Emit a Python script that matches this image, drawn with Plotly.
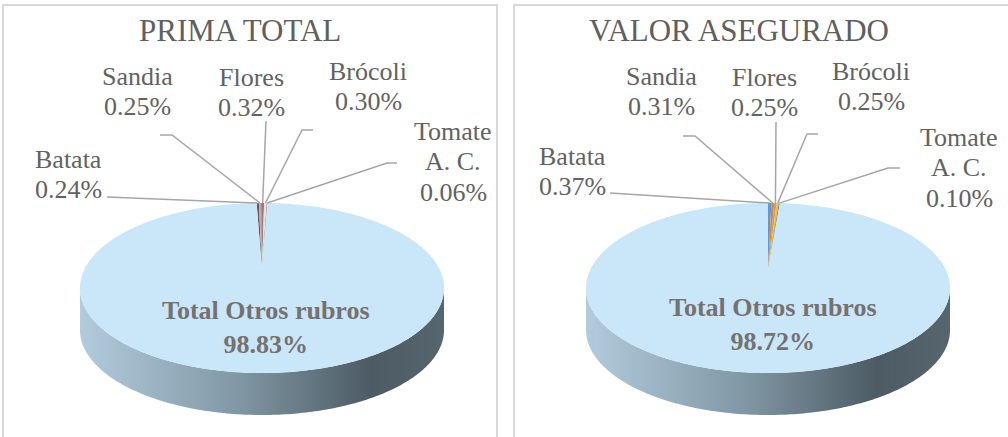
import numpy as np
import plotly.graph_objects as go

# ---------------- data ----------------
categories = ["Batata", "Sandia", "Flores", "Brócoli", "Tomate A. C.", "Total Otros rubros"]
prima_total = [0.24, 0.25, 0.32, 0.30, 0.06, 98.83]
valor_asegurado = [0.37, 0.31, 0.25, 0.25, 0.10, 98.72]
titles = ["PRIMA TOTAL", "VALOR ASEGURADO"]

colors_left = ["#525d66", "#f0959b", "#7c848b", "#dde6d9", "#b04a50", "#c9e7f8"]
colors_right = ["#5b9bd5", "#ed7d31", "#a5a5a5", "#ffc000", "#4472c4", "#c9e7f8"]

# ---------------- geometry (pixel space) ----------------
W, H = 1008, 437
K = 0.2117          # perspective factor
B = 81.2            # vertical semi-axis factor
C = 177.9           # horizontal semi-axis factor
CY = 270            # apex / centre y
DEPTH = 42          # pie thickness
panels = [
    dict(cx=262, title_x=240, rot=-2.1,
         label_lines={
             "Batata": dict(x=33, y=159, anchor="left", pts=[(107, 197)]),
             "Sandia": dict(x=137, y=76, anchor="center", pts=[(160, 135), (172, 135)]),
             "Flores": dict(x=251, y=77, anchor="center", pts=[(266, 121)]),
             "Brócoli": dict(x=368, y=71, anchor="center", pts=[(313, 130), (302, 130)]),
             "Tomate A. C.": dict(x=453, y=131, anchor="center", pts=[(397, 163), (387, 163)]),
         },
         total_x=266, total_y=327),
    dict(cx=768, title_x=739, rot=0.0,
         label_lines={
             "Batata": dict(x=537, y=156, anchor="left", pts=[(610, 193)]),
             "Sandia": dict(x=661, y=76, anchor="center", pts=[(683, 136), (695, 136)]),
             "Flores": dict(x=764, y=77, anchor="center", pts=[(776, 122)]),
             "Brócoli": dict(x=871, y=71, anchor="center", pts=[(818, 134), (807, 134)]),
             "Tomate A. C.": dict(x=959, y=137, anchor="center", pts=[(900, 168), (888, 168)]),
         },
         total_x=773, total_y=324),
]
LINE_STEP = 30.5
LABEL_COLOR = "#626262"
SERIF = "Liberation Serif, Times New Roman, serif"


def proj(cx, phi, dz=0.0):
    phi = np.asarray(phi, dtype=float)
    u = np.sin(phi)
    v = -np.cos(phi)
    w = 1 - K * v
    return cx + C * u / w, CY + B * v / w + dz


fig = go.Figure()
annotations = []
shapes = []

for p, values, colors, title in zip(panels, [prima_total, valor_asegurado],
                                     [colors_left, colors_right], titles):
    cx = p["cx"]
    # side wall (front half)
    a0 = np.arccos(-K)
    arc = np.linspace(a0, 2 * np.pi - a0, 200)
    xt, yt = proj(cx, arc)
    xb, yb = proj(cx, arc[::-1], DEPTH)
    fig.add_trace(go.Scatter(
        x=np.concatenate([xt, xb, xt[:1]]), y=np.concatenate([yt, yb, yt[:1]]),
        mode="none", fill="toself",
        fillgradient=dict(type="horizontal",
                          colorscale=[[0, "#b2ccdd"], [0.45, "#7f95a2"],
                                      [0.8, "#4c5b64"], [1, "#56656e"]]),
        hoverinfo="skip", showlegend=False))

    # top face slices
    total = sum(values)
    start = np.deg2rad(p["rot"])
    mids = []
    for val, col in zip(values, colors):
        span = 2 * np.pi * val / total
        ang = np.linspace(start, start + span, max(3, int(400 * val / total) + 3))
        xs, ys = proj(cx, ang)
        fig.add_trace(go.Scatter(
            x=np.concatenate([[cx], xs, [cx]]), y=np.concatenate([[CY], ys, [CY]]),
            mode="none", fill="toself", fillcolor=col,
            hoverinfo="skip", showlegend=False))
        mids.append(start + span / 2)
        start += span

    # labels and leader lines for small slices
    for cat, val, mid in zip(categories[:-1], values[:-1], mids[:-1]):
        info = p["label_lines"][cat]
        lines = cat.replace("Tomate A. C.", "Tomate|A. C.").split("|") + [f"{val:.2f}%"]
        for i, txt in enumerate(lines):
            annotations.append(dict(
                x=info["x"], y=info["y"] + i * LINE_STEP, xref="x", yref="y",
                text=txt, showarrow=False,
                xanchor=info["anchor"], yanchor="middle",
                font=dict(family=SERIF, size=26, color=LABEL_COLOR)))
        ex, ey = proj(cx, mid)
        px = [q[0] for q in info["pts"]] + [float(ex)]
        py = [q[1] for q in info["pts"]] + [float(ey)]
        fig.add_trace(go.Scatter(x=px, y=py, mode="lines",
                                 line=dict(color="#a6a6a6", width=1.5),
                                 hoverinfo="skip", showlegend=False))

    # big slice label
    annotations.append(dict(
        x=p["total_x"], y=p["total_y"], xref="x", yref="y",
        text=f"<b>{categories[-1]}</b><br><b>{values[-1]:.2f}%</b>",
        showarrow=False, xanchor="center", yanchor="middle",
        font=dict(family=SERIF, size=26, color="#767171")))

    # title
    annotations.append(dict(
        x=p["title_x"], y=30, xref="x", yref="y", text=title, showarrow=False,
        xanchor="center", yanchor="middle",
        font=dict(family=SERIF, size=31, color="#5f5f5f")))

# panel borders
for x0, x1 in [(3, 497), (514, 1012)]:
    shapes.append(dict(type="rect", xref="x", yref="y", x0=x0, x1=x1, y0=5, y1=445,
                       line=dict(color="#d9d9d9", width=2), fillcolor="rgba(0,0,0,0)",
                       layer="below"))

fig.update_layout(
    width=W, height=H,
    margin=dict(l=0, r=0, t=0, b=0),
    paper_bgcolor="white", plot_bgcolor="white",
    xaxis=dict(range=[0, W], visible=False, fixedrange=True),
    yaxis=dict(range=[H, 0], visible=False, fixedrange=True),
    annotations=annotations, shapes=shapes,
    showlegend=False,
)

fig.write_html("out.html", config={"displayModeBar": False},
               post_script="document.body.style.margin='0';document.body.style.overflow='hidden';")
